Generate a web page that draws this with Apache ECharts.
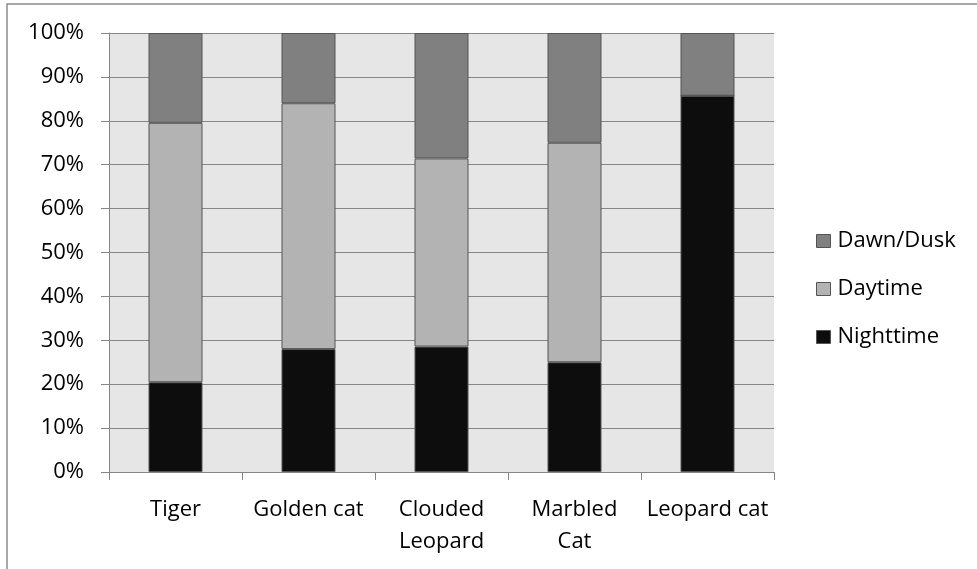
<!DOCTYPE html>
<html>
<head>
<meta charset="utf-8">
<style>html,body{margin:0;padding:0;background:#fff;}#c{width:977px;height:569px;}</style>
<script src="https://cdn.jsdelivr.net/npm/echarts@6/dist/echarts.min.js"></script>
</head>
<body>
<div id="c"></div>
<script>
var categories = ['Tiger', 'Golden cat', 'Clouded\nLeopard', 'Marbled\nCat', 'Leopard cat'];
var nighttime = [20.45, 28, 28.57, 25, 85.71];
var daytime = [59.09, 56, 42.86, 50, 0];
var dawnDusk = [20.45, 16, 28.57, 25, 14.29];
var yTicks = [0, 10, 20, 30, 40, 50, 60, 70, 80, 90, 100];

var FONT = 'Open Sans';
var chart = echarts.init(document.getElementById('c'));
function barSeries(name, data, color) {
  return {
    name: name, type: 'bar', stack: 'all', data: data, barWidth: 54,
    itemStyle: { color: color, borderColor: '#555', borderWidth: 1 },
    emphasis: { disabled: true }
  };
}
chart.setOption({
  animation: false,
  graphic: [{
    type: 'rect', shape: { x: 7, y: 4, width: 1000, height: 600 },
    style: { fill: 'none', stroke: '#8c8c8c', lineWidth: 1.5 }, z: -10
  }],
  grid: { left: 109, right: 203, top: 33, bottom: 97, show: true, backgroundColor: '#e6e6e6', borderWidth: 0 },
  legend: {
    orient: 'vertical', left: 816, top: 230, padding: 0,
    data: ['Dawn/Dusk', 'Daytime', 'Nighttime'],
    itemWidth: 14, itemHeight: 13, itemGap: 26, icon: 'rect',
    itemStyle: { borderColor: '#555', borderWidth: 1 },
    textStyle: { fontFamily: FONT, fontSize: 22, color: '#000', lineHeight: 22, padding: [0, 0, 0, 2] }
  },
  xAxis: {
    type: 'category', data: categories,
    axisLine: { lineStyle: { color: '#868686', width: 1 } },
    axisTick: { show: true, length: 8, lineStyle: { color: '#868686' } },
    axisLabel: { fontFamily: FONT, fontSize: 22, color: '#000', margin: 22, lineHeight: 32, interval: 0 }
  },
  yAxis: {
    type: 'value', min: yTicks[0], max: yTicks[yTicks.length - 1], interval: 10,
    axisLine: { show: true, lineStyle: { color: '#868686', width: 1 } },
    axisTick: { show: true, length: 8, lineStyle: { color: '#868686' } },
    splitLine: { show: true, lineStyle: { color: '#868686', width: 1 } },
    axisLabel: { fontFamily: FONT, fontSize: 22, color: '#000', margin: 25, formatter: '{value}%' }
  },
  series: [
    barSeries('Nighttime', nighttime, '#0d0d0d'),
    barSeries('Daytime', daytime, '#b3b3b3'),
    barSeries('Dawn/Dusk', dawnDusk, '#808080')
  ]
});
</script>
</body>
</html>
